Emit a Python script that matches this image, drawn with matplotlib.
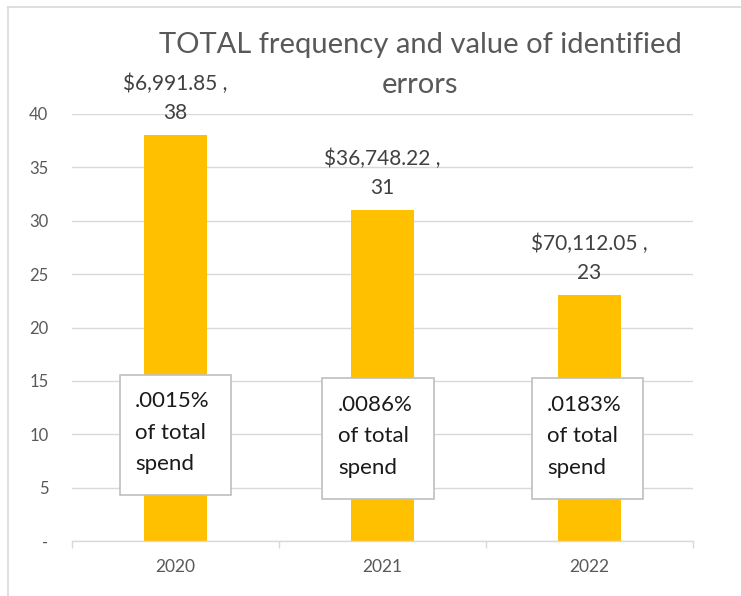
import matplotlib.pyplot as plt
from matplotlib.lines import Line2D
from matplotlib.patches import Rectangle

years = ["2020", "2021", "2022"]
counts = [38, 31, 23]
values = ["$6,991.85", "$36,748.22", "$70,112.05"]
share_text = [".0015%", ".0086%", ".0183%"]
y_ticks = [0, 5, 10, 15, 20, 25, 30, 35, 40]
y_tick_labels = ["-", "5", "10", "15", "20", "25", "30", "35", "40"]
title_lines = ["TOTAL frequency and value of identified", "errors"]

# box extents (data coords) for the "% of total spend" callouts
box_left = [-0.27, -0.29, -0.28]
box_width = 0.54
box_bottom = [4.3, 3.95, 3.95]
box_top = [15.55, 15.3, 15.3]

BAR = "#FFC000"
GRID = "#D9D9D9"
TXT = "#595959"

plt.rcParams["font.family"] = ["Lato", "DejaVu Sans"]

fig = plt.figure(figsize=(7.41, 5.96), dpi=100)
ax = fig.add_axes([72 / 741, 55 / 596, 621 / 741, 427 / 596])

x = list(range(len(years)))
ax.bar(x, counts, width=0.305, color=BAR, zorder=2)

ax.set_xlim(-0.5, 2.5)
ax.set_ylim(0, 40)
ax.set_yticks(y_ticks)
ax.set_yticklabels(y_tick_labels)
ax.set_xticks(x)
ax.set_xticklabels(years)
ax.set_xticks([-0.5, 0.5, 1.5, 2.5], minor=True)
ax.tick_params(axis="x", which="major", length=0, pad=13, labelsize=12.5, labelcolor=TXT)
ax.tick_params(axis="x", which="minor", length=5, width=1, color=GRID, direction="out")
ax.tick_params(axis="y", length=0, pad=17, labelsize=12, labelcolor=TXT)
ax.grid(axis="y", color=GRID, linewidth=1, zorder=0)
ax.set_axisbelow(True)
for s in ["left", "right", "top"]:
    ax.spines[s].set_visible(False)
ax.spines["bottom"].set_color(GRID)
ax.spines["bottom"].set_linewidth(1)

# value labels above bars
for xi, c, v in zip(x, counts, values):
    ax.annotate(f"{v} ,\n{c}", (xi, c), xytext=(0, 9), textcoords="offset points",
                ha="center", va="bottom", fontsize=15, color="#404040",
                linespacing=1.55)

# callout boxes
for xi, bl, bb, bt, t in zip(x, box_left, box_bottom, box_top, share_text):
    ax.add_patch(Rectangle((xi + bl, bb), box_width, bt - bb, facecolor="white",
                           edgecolor="#BFBFBF", linewidth=1.2, zorder=3))
    ax.text(xi + bl + 0.075, (bb + bt) / 2 + 0.2, f"{t}\nof total\nspend", ha="left",
            va="center", fontsize=16, color="#1a1a1a", linespacing=1.72, zorder=4)

# title, one text per line
fig.text(420 / 741, 1 - 45 / 596, title_lines[0], ha="center", va="center",
         fontsize=21, color=TXT)
fig.text(420 / 741, 1 - 85 / 596, title_lines[1], ha="center", va="center",
         fontsize=21, color=TXT)

# outer chart frame (left and top edges visible in the crop)
fig.add_artist(Line2D([8 / 741, 8 / 741], [0, 1 - 7 / 596], transform=fig.transFigure,
                      color=GRID, linewidth=1.2))
fig.add_artist(Line2D([8 / 741, 1], [1 - 7 / 596, 1 - 7 / 596], transform=fig.transFigure,
                      color=GRID, linewidth=1.2))

fig.savefig("out.png", dpi=100)
